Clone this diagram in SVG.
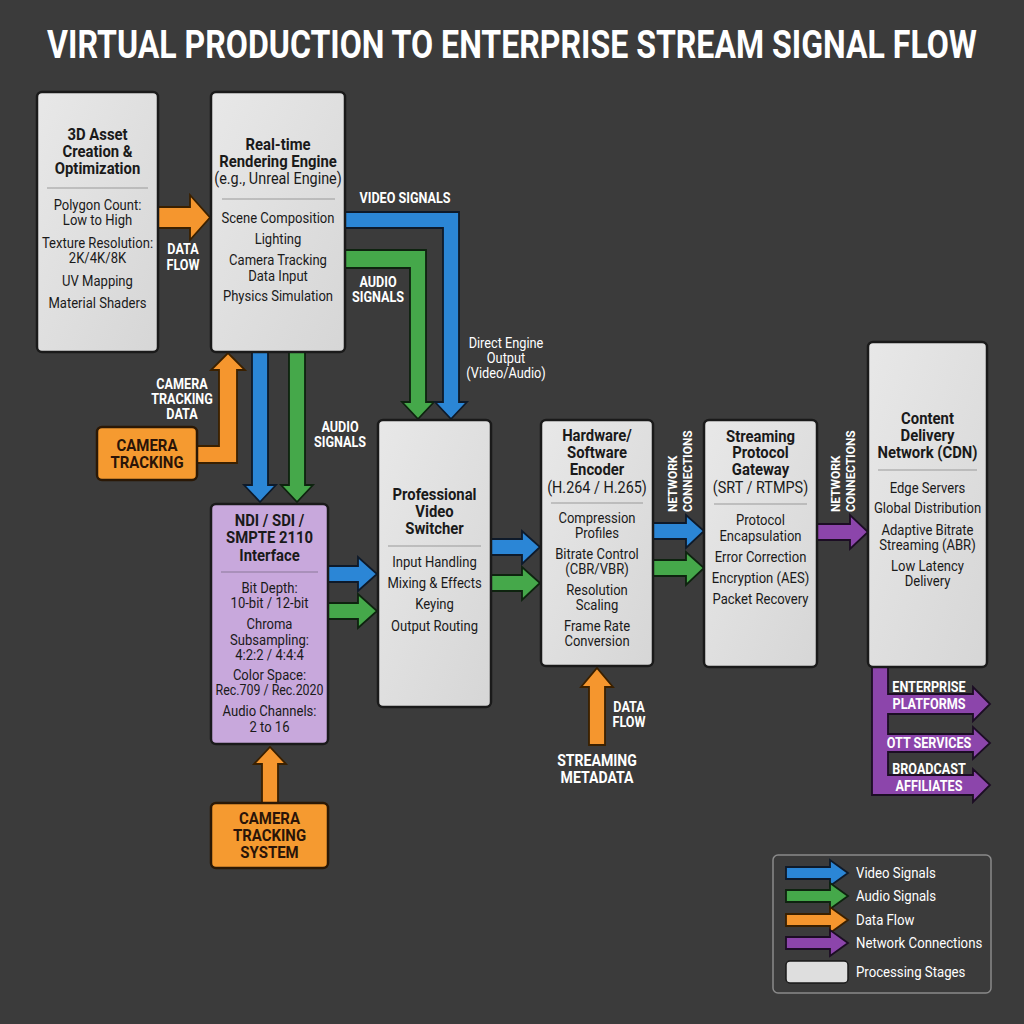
<svg xmlns="http://www.w3.org/2000/svg" width="1024" height="1024" viewBox="0 0 1024 1024">
<defs>
<linearGradient id="gNode" x1="0" y1="0" x2="1" y2="1">
<stop offset="0" stop-color="#e8e8e8"/><stop offset="1" stop-color="#d6d6d6"/>
</linearGradient>
<style>
text{font-family:Roboto,"Liberation Sans",sans-serif;text-anchor:middle}
.nb{fill:url(#gNode);stroke:#1a1a1a;stroke-width:2.5}
.np{fill:#c8a8dc;stroke:#1a1a1a;stroke-width:2.5}
.no{fill:#f59a30;stroke:#2a1806;stroke-width:2.5}
.div{stroke:#9a9a9a;stroke-width:1.2}
.h{font-size:16.5px;font-weight:700;fill:#1a1a1a}
.s{font-size:16px;fill:#1a1a1a}
.i{font-size:14.5px;fill:#1a1a1a}
.ot{font-size:17px;font-weight:700;fill:#2a1408}
.lb{font-size:14px;font-weight:700;fill:#ffffff}
.lr{font-size:14.5px;fill:#ffffff}
.net{font-size:13.5px;font-weight:700;fill:#ffffff;text-anchor:start}
.ab{fill:#2b86d6;stroke:#0e1a2a;stroke-width:1.8}
.ag{fill:#45a84a;stroke:#0e230f;stroke-width:1.8}
.ao{fill:#f5962e;stroke:#3a2000;stroke-width:1.8}
.ap{fill:#8c45ab;stroke:#1c0d24;stroke-width:1.8}
.lg{font-size:15px;fill:#ffffff;text-anchor:start}
</style>
</defs>
<rect x="0" y="0" width="1024" height="1024" fill="#3b3b3b"/>
<text transform="translate(512 58) scale(0.82 1)" font-size="38" font-weight="700" fill="#ffffff" textLength="1134" lengthAdjust="spacingAndGlyphs">VIRTUAL PRODUCTION TO ENTERPRISE STREAM SIGNAL FLOW</text>

<g id="connectors">
<polygon class="ao" points="158,207 190,207 190,195 210,217.5 190,240 190,228 158,228"/>
<polygon class="ag" points="345,250 426,250 426,402 434,402 418,419 402,402 410,402 410,268 345,268"/>
<polygon class="ab" points="345,212 459,212 459,402 467,402 451,419 435,402 443,402 443,228 345,228"/>
<polygon class="ao" points="197,446 219,446 219,370 211,370 228,353 245,370 237,370 237,463 197,463"/>
<polygon class="ab" points="252,352 268,352 268,485 276,485 260,502 244,485 252,485"/>
<polygon class="ag" points="289,352 305,352 305,485 313,485 297,502 281,485 289,485"/>
<polygon class="ab" points="328,566 358,566 358,557 377,574 358,591 358,582 328,582"/>
<polygon class="ag" points="328,603 358,603 358,594 377,611 358,628 358,619 328,619"/>
<polygon class="ab" points="491,539 522,539 522,531 540,547 522,564 522,555 491,555"/>
<polygon class="ag" points="491,575 522,575 522,567 540,583 522,600 522,591 491,591"/>
<polygon class="ab" points="653,523 686,523 686,515 704,531 686,548 686,539 653,539"/>
<polygon class="ag" points="653,560 686,560 686,552 704,568 686,585 686,576 653,576"/>
<polygon class="ap" points="817,524 850,524 850,515 868,532 850,549 850,540 817,540"/>
<path class="ap" d="M872,667 L888,667 L888,694 L973,694 L973,687 L990,704 L973,721 L973,714 L888,714 L888,734 L973,734 L973,727 L990,743 L973,759 L973,752 L888,752 L888,775 L973,775 L973,769 L990,785 L973,802 L973,795 L872,795 Z"/>
<polygon class="ao" points="262,803 278,803 278,764 286,764 270,747 254,764 262,764"/>
<polygon class="ao" points="589,745 605,745 605,687 613,687 597,668 581,687 589,687"/>

<text class="lb" transform="translate(183 254) scale(0.9 1)">DATA</text>
<text class="lb" transform="translate(183 270) scale(0.9 1)">FLOW</text>
<text class="lb" transform="translate(405 203) scale(0.9 1)">VIDEO SIGNALS</text>
<text class="lb" transform="translate(378 287) scale(0.9 1)">AUDIO</text>
<text class="lb" transform="translate(378 302) scale(0.9 1)">SIGNALS</text>
<text class="lr" transform="translate(506 348) scale(0.88 1)">Direct Engine</text>
<text class="lr" transform="translate(506 363) scale(0.88 1)">Output</text>
<text class="lr" transform="translate(506 378) scale(0.88 1)">(Video/Audio)</text>
<text class="lb" transform="translate(182 389) scale(0.9 1)">CAMERA</text>
<text class="lb" transform="translate(182 404) scale(0.9 1)">TRACKING</text>
<text class="lb" transform="translate(182 419) scale(0.9 1)">DATA</text>
<text class="lb" transform="translate(340 432) scale(0.9 1)">AUDIO</text>
<text class="lb" transform="translate(340 447) scale(0.9 1)">SIGNALS</text>
<text class="net" transform="translate(677 512) rotate(-90) scale(0.88 1)">NETWORK</text>
<text class="net" transform="translate(692 512) rotate(-90) scale(0.88 1)">CONNECTIONS</text>
<text class="net" transform="translate(840 512) rotate(-90) scale(0.88 1)">NETWORK</text>
<text class="net" transform="translate(855 512) rotate(-90) scale(0.88 1)">CONNECTIONS</text>
<text class="lb" transform="translate(629 712) scale(0.9 1)">DATA</text>
<text class="lb" transform="translate(629 727) scale(0.9 1)">FLOW</text>
<text class="lb" style="font-size:16px" transform="translate(597 766) scale(0.88 1)">STREAMING</text>
<text class="lb" style="font-size:16px" transform="translate(597 783) scale(0.88 1)">METADATA</text>
<text class="lb" transform="translate(929 692) scale(0.9 1)">ENTERPRISE</text>
<text class="lb" transform="translate(929 709) scale(0.9 1)">PLATFORMS</text>
<text class="lb" transform="translate(929 748) scale(0.9 1)">OTT SERVICES</text>
<text class="lb" transform="translate(929 774) scale(0.9 1)">BROADCAST</text>
<text class="lb" transform="translate(929 791) scale(0.9 1)">AFFILIATES</text>
</g>

<g id="node-3d-asset">
<rect class="nb" x="37" y="92" width="121" height="260" rx="5"/>
<line class="div" x1="47" y1="188" x2="148" y2="188"/>
<g transform="translate(97.5 0) scale(0.9 1)">
<text class="h" y="140">3D Asset</text>
<text class="h" y="157">Creation &amp;</text>
<text class="h" y="174">Optimization</text>
<text class="i" y="210">Polygon Count:</text>
<text class="i" y="225">Low to High</text>
<text class="i" y="248">Texture Resolution:</text>
<text class="i" y="263">2K/4K/8K</text>
<text class="i" y="286">UV Mapping</text>
<text class="i" y="308">Material Shaders</text>
</g>
</g>

<g id="node-rendering">
<rect class="nb" x="211" y="92" width="134" height="260" rx="5"/>
<line class="div" x1="222" y1="199" x2="335" y2="199"/>
<g transform="translate(278 0) scale(0.9 1)">
<text class="h" y="150">Real-time</text>
<text class="h" y="167">Rendering Engine</text>
<text class="s" y="184">(e.g., Unreal Engine)</text>
<text class="i" y="223">Scene Composition</text>
<text class="i" y="244">Lighting</text>
<text class="i" y="265">Camera Tracking</text>
<text class="i" y="281">Data Input</text>
<text class="i" y="301">Physics Simulation</text>
</g>
</g>

<g id="node-camera-tracking">
<rect class="no" x="97" y="427" width="100" height="53" rx="5"/>
<g transform="translate(147 0) scale(0.88 1)">
<text class="ot" y="451">CAMERA</text>
<text class="ot" y="468">TRACKING</text>
</g>
</g>

<g id="node-ndi">
<rect class="np" x="211" y="504" width="117" height="240" rx="5"/>
<line class="div" x1="221" y1="572" x2="318" y2="572" style="stroke:#8a7898"/>
<g transform="translate(269.5 0) scale(0.9 1)">
<text class="h" y="526">NDI / SDI /</text>
<text class="h" y="543">SMPTE 2110</text>
<text class="h" y="561">Interface</text>
<text class="i" y="593">Bit Depth:</text>
<text class="i" y="608">10-bit / 12-bit</text>
<text class="i" y="629">Chroma</text>
<text class="i" y="645">Subsampling:</text>
<text class="i" y="660">4:2:2 / 4:4:4</text>
<text class="i" y="680">Color Space:</text>
<text class="i" y="695" style="font-size:13.8px">Rec.709 / Rec.2020</text>
<text class="i" y="716">Audio Channels:</text>
<text class="i" y="732">2 to 16</text>
</g>
</g>

<g id="node-camera-system">
<rect class="no" x="211" y="803" width="117" height="65" rx="5"/>
<g transform="translate(269.5 0) scale(0.88 1)">
<text class="ot" y="824">CAMERA</text>
<text class="ot" y="841">TRACKING</text>
<text class="ot" y="858">SYSTEM</text>
</g>
</g>

<g id="node-switcher">
<rect class="nb" x="378" y="420" width="113" height="287" rx="5"/>
<line class="div" x1="388" y1="546" x2="481" y2="546"/>
<g transform="translate(434.5 0) scale(0.9 1)">
<text class="h" y="500">Professional</text>
<text class="h" y="517">Video</text>
<text class="h" y="534">Switcher</text>
<text class="i" y="567">Input Handling</text>
<text class="i" y="588">Mixing &amp; Effects</text>
<text class="i" y="609">Keying</text>
<text class="i" y="631">Output Routing</text>
</g>
</g>

<g id="node-encoder">
<rect class="nb" x="541" y="420" width="112" height="246" rx="5"/>
<line class="div" x1="551" y1="503" x2="643" y2="503"/>
<g transform="translate(597 0) scale(0.9 1)">
<text class="h" y="441">Hardware/</text>
<text class="h" y="458">Software</text>
<text class="h" y="475">Encoder</text>
<text class="s" y="493">(H.264 / H.265)</text>
<text class="i" y="523">Compression</text>
<text class="i" y="538">Profiles</text>
<text class="i" y="559">Bitrate Control</text>
<text class="i" y="574">(CBR/VBR)</text>
<text class="i" y="595">Resolution</text>
<text class="i" y="610">Scaling</text>
<text class="i" y="631">Frame Rate</text>
<text class="i" y="646">Conversion</text>
</g>
</g>

<g id="node-gateway">
<rect class="nb" x="704" y="420" width="113" height="247" rx="5"/>
<line class="div" x1="714" y1="504" x2="807" y2="504"/>
<g transform="translate(760.5 0) scale(0.9 1)">
<text class="h" y="442">Streaming</text>
<text class="h" y="458">Protocol</text>
<text class="h" y="475">Gateway</text>
<text class="s" y="493">(SRT / RTMPS)</text>
<text class="i" y="525">Protocol</text>
<text class="i" y="541">Encapsulation</text>
<text class="i" y="562">Error Correction</text>
<text class="i" y="583">Encryption (AES)</text>
<text class="i" y="604">Packet Recovery</text>
</g>
</g>

<g id="node-cdn">
<rect class="nb" x="868" y="342" width="119" height="325" rx="5"/>
<line class="div" x1="878" y1="470" x2="977" y2="470"/>
<g transform="translate(927.5 0) scale(0.9 1)">
<text class="h" y="424">Content</text>
<text class="h" y="441">Delivery</text>
<text class="h" y="458">Network (CDN)</text>
<text class="i" y="493">Edge Servers</text>
<text class="i" y="513">Global Distribution</text>
<text class="i" y="535">Adaptive Bitrate</text>
<text class="i" y="550">Streaming (ABR)</text>
<text class="i" y="571">Low Latency</text>
<text class="i" y="586">Delivery</text>
</g>
</g>

<g id="legend">
<rect x="773" y="855" width="218" height="138" rx="5" fill="#3b3b3b" stroke="#8a8a8a" stroke-width="1.5"/>
<polygon class="ab" points="786,867 830,867 830,860 848,873 830,886 830,879 786,879"/>
<polygon class="ag" points="786,890 830,890 830,883 848,896 830,909 830,902 786,902"/>
<polygon class="ao" points="786,914 830,914 830,907 848,920 830,933 830,926 786,926"/>
<polygon class="ap" points="786,937 830,937 830,930 848,943 830,956 830,949 786,949"/>
<rect x="786" y="961" width="62" height="22" rx="4" fill="#dedede" stroke="#1a1a1a" stroke-width="1.5"/>
<g transform="translate(856 0) scale(0.88 1)">
<text class="lg" y="878">Video Signals</text>
<text class="lg" y="901">Audio Signals</text>
<text class="lg" y="925">Data Flow</text>
<text class="lg" y="948">Network Connections</text>
<text class="lg" y="977">Processing Stages</text>
</g>
</g>
</svg>
